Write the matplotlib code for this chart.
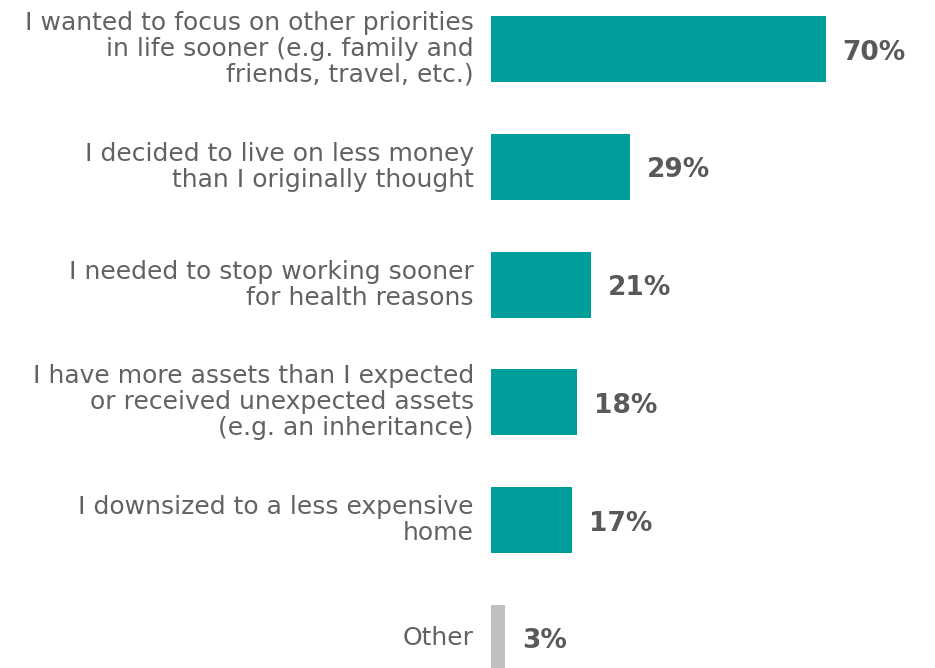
import matplotlib.pyplot as plt

# survey answers, top to bottom
labels = [
    "I wanted to focus on other priorities\nin life sooner (e.g. family and\nfriends, travel, etc.)",
    "I decided to live on less money\nthan I originally thought",
    "I needed to stop working sooner\nfor health reasons",
    "I have more assets than I expected\nor received unexpected assets\n(e.g. an inheritance)",
    "I downsized to a less expensive\nhome",
    "Other",
]
values = [70, 29, 21, 18, 17, 3]
colors = ["#009E9A"] * 5 + ["#BFBFBF"]

plt.rcParams['font.family'] = ['DejaVu Sans']

fig = plt.figure(figsize=(9.35, 6.68), dpi=100)
# axes placed so the bars start at x=491 px
ax = fig.add_axes([491 / 935, 0, 1 - 491 / 935, 1])

ys = list(range(len(values)))
ax.barh(ys, values, height=0.56, color=colors)

for y, v, lab in zip(ys, values, labels):
    ax.text(v + 3.5, y + 0.03, "%d%%" % v, va="center", ha="left",
            fontsize=19, fontweight="bold", color="#595959")
    ax.text(-3.6, y, lab, va="center", ha="right", fontsize=18,
            color="#626262", linespacing=1.1, clip_on=False)

ax.set_xlim(0, 92.8)
ax.set_ylim(5.255, -0.416)
ax.axis("off")

fig.savefig("out.png", dpi=100)
